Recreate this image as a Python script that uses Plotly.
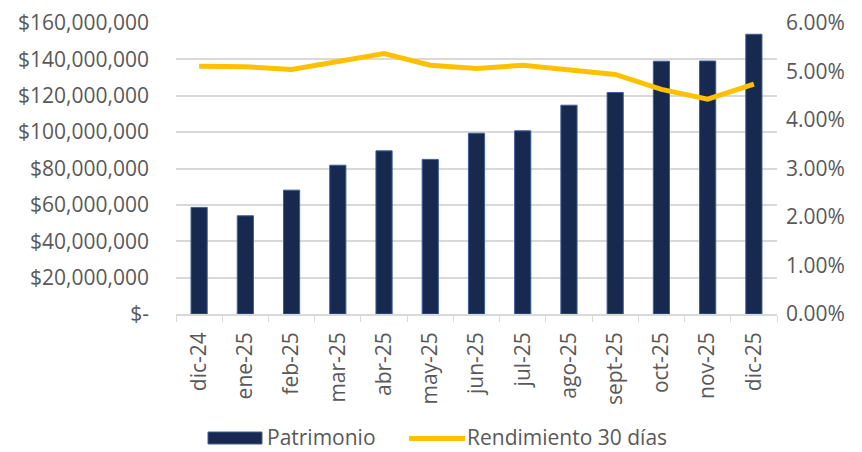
import plotly.graph_objects as go

categories = ["dic-24", "ene-25", "feb-25", "mar-25", "abr-25", "may-25", "jun-25",
              "jul-25", "ago-25", "sept-25", "oct-25", "nov-25", "dic-25"]
patrimonio = [58.6e6, 54.0e6, 68.1e6, 81.8e6, 89.7e6, 85.0e6, 99.4e6,
              100.7e6, 114.8e6, 121.8e6, 139.0e6, 139.1e6, 153.8e6]
rendimiento = [0.0511, 0.0510, 0.0504, 0.0520, 0.0537, 0.0513, 0.0506,
               0.0513, 0.0503, 0.0494, 0.0463, 0.0443, 0.0474]

left_tickvals = [0, 20e6, 40e6, 60e6, 80e6, 100e6, 120e6, 140e6, 160e6]
left_ticktext = ["$-", "$20,000,000", "$40,000,000", "$60,000,000", "$80,000,000",
                 "$100,000,000", "$120,000,000", "$140,000,000", "$160,000,000"]
right_tickvals = [0, 0.01, 0.02, 0.03, 0.04, 0.05, 0.06]

FONT = "'Open Sans', sans-serif"
TXT = "#595959"
GRID = "#D9D9D9"
NAVY = "#17294F"
GOLD = "#FFC000"
FS = 21

# figure geometry (page body has an 8px margin)
W, H = 854, 444
ML, MR, MT, MB = 168, 85, 15, 138
OFF = 8
PX0, PX1 = OFF + ML, OFF + W - MR      # plot area in page pixels
PY0, PY1 = OFF + MT, OFF + H - MB


def px(xp):
    return (xp - PX0) / (PX1 - PX0)


def py(yp):
    return (PY1 - yp) / (PY1 - PY0)


fig = go.Figure()
fig.add_trace(go.Bar(
    x=categories, y=patrimonio, name="Patrimonio",
    marker=dict(color=NAVY, line=dict(color="#3E5E9A", width=1)),
    width=0.35, yaxis="y",
))
fig.add_trace(go.Scatter(
    x=categories, y=rendimiento, name="Rendimiento 30 días",
    mode="lines", line=dict(color=GOLD, width=5), yaxis="y2",
))

# Excel-style legend drawn at the bottom
LEG_Y = 438
fig.add_shape(type="rect", xref="paper", yref="paper",
              x0=px(208), x1=px(262), y0=py(LEG_Y + 6), y1=py(LEG_Y - 6),
              fillcolor=NAVY, line=dict(color="#3E5E9A", width=1))
fig.add_shape(type="line", xref="paper", yref="paper",
              x0=px(409), x1=px(465), y0=py(LEG_Y + 0.5), y1=py(LEG_Y + 0.5),
              line=dict(color=GOLD, width=5))
fig.add_annotation(text="Patrimonio", xref="paper", yref="paper",
                   x=px(265), y=py(LEG_Y - 1), xanchor="left", yanchor="middle",
                   showarrow=False, font=dict(size=FS, color=TXT))
fig.add_annotation(text="Rendimiento 30 días", xref="paper", yref="paper",
                   x=px(465), y=py(LEG_Y - 1), xanchor="left", yanchor="middle",
                   showarrow=False, font=dict(size=FS, color=TXT))

fig.update_layout(
    width=W, height=H,
    margin=dict(l=ML, r=MR, t=MT, b=MB),
    paper_bgcolor="white", plot_bgcolor="white",
    font=dict(family=FONT, size=FS, color=TXT),
    showlegend=False,
    xaxis=dict(type="category", tickangle=-90, showline=True, linecolor=GRID,
               linewidth=1.5, ticks="outside", tickson="boundaries", ticklen=6,
               tickcolor=GRID, showgrid=False, automargin=False,
               ticklabelstandoff=8, tickfont=dict(size=FS, color=TXT)),
    yaxis=dict(range=[0, 160e6], tickvals=left_tickvals, ticktext=left_ticktext,
               showgrid=True, gridcolor=GRID, gridwidth=1.5, zeroline=False,
               ticks="", automargin=False, ticklabelstandoff=26,
               tickfont=dict(size=FS, color=TXT)),
    yaxis2=dict(range=[0, 0.06], tickvals=right_tickvals, tickformat=".2%",
                overlaying="y", side="right", showgrid=False, zeroline=False,
                automargin=False, ticklabelstandoff=8,
                tickfont=dict(size=FS, color=TXT)),
)

fig.write_html("out.html")
